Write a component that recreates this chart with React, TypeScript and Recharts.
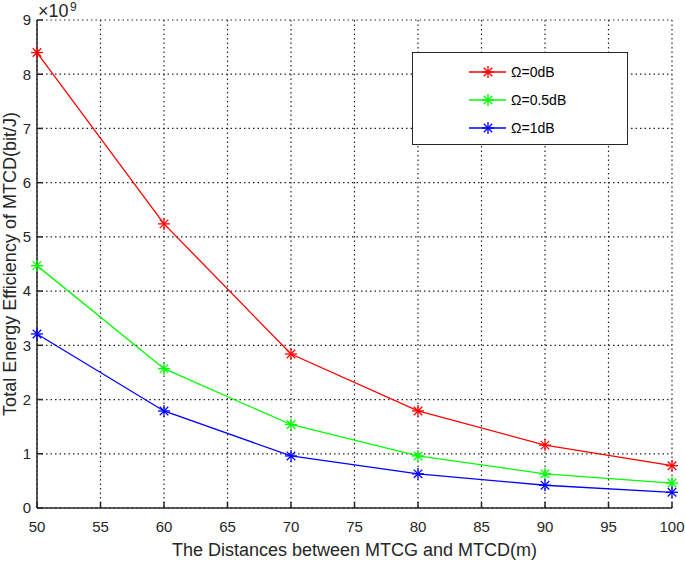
import React from 'react';
import { LineChart, Line, XAxis, YAxis, CartesianGrid } from 'recharts';

const distances = [50, 60, 70, 80, 90, 100];
const omega0 = [8.4, 5.24, 2.84, 1.79, 1.16, 0.78];
const omega05 = [4.47, 2.57, 1.54, 0.96, 0.63, 0.46];
const omega1 = [3.21, 1.79, 0.96, 0.63, 0.42, 0.29];
const seriesNames = ['Ω=0dB', 'Ω=0.5dB', 'Ω=1dB'];
const seriesColors = ['#ff0000', '#00ff00', '#0000ff'];
const xTicks = [50, 55, 60, 65, 70, 75, 80, 85, 90, 95, 100];
const yTicks = [0, 1, 2, 3, 4, 5, 6, 7, 8, 9];

const data = distances.map((d, i) => ({ d, s0: omega0[i], s1: omega05[i], s2: omega1[i] }));
const keys = ['s0', 's1', 's2'];

const FONT = '"Liberation Sans", Arial, Helvetica, sans-serif';

const Star = (color: string) => (props: any) => {
  const { cx, cy } = props;
  if (cx == null || cy == null) return null;
  const r = 6;
  const d = r * 0.7071;
  return (
    <g stroke={color} strokeWidth={1.3} key={`${cx}-${cy}`}>
      <line x1={cx - r} y1={cy} x2={cx + r} y2={cy} />
      <line x1={cx} y1={cy - r} x2={cx} y2={cy + r} />
      <line x1={cx - d} y1={cy - d} x2={cx + d} y2={cy + d} />
      <line x1={cx - d} y1={cy + d} x2={cx + d} y2={cy - d} />
    </g>
  );
};

const LegendBox = () => (
  <div
    style={{
      position: 'absolute',
      left: 412,
      top: 52,
      width: 216,
      height: 93,
      border: '1.5px solid #262626',
      background: '#fff',
      boxSizing: 'border-box',
      fontFamily: FONT,
      fontSize: 14,
    }}
  >
    {seriesNames.map((n, i) => (
      <div key={n} style={{ position: 'absolute', left: 56, top: 10 + i * 28, height: 18, display: 'flex', alignItems: 'center' }}>
        <svg width={40} height={18}>
          <line x1={0} y1={9} x2={37} y2={9} stroke={seriesColors[i]} strokeWidth={1.3} />
          {Star(seriesColors[i])({ cx: 19, cy: 9 })}
        </svg>
        <span style={{ marginLeft: 2, color: '#000' }}>{n}</span>
      </div>
    ))}
  </div>
);

export default function App() {
  return (
    <div style={{ position: 'absolute', left: 0, top: 0, width: 685, height: 561, background: '#fff' }}>
      <LineChart width={685} height={561} data={data} margin={{ top: 20, right: 13, bottom: 0, left: 0 }}>
        <CartesianGrid stroke="#262626" strokeDasharray="1.5 3" strokeWidth={1.2} />
        <XAxis
          dataKey="d"
          type="number"
          domain={[50, 100]}
          ticks={xTicks}
          interval={0}
          height={53}
          tickSize={-6}
          tickMargin={19}
          stroke="#262626"
          strokeWidth={1.5}
          tick={{ fill: '#262626', fontSize: 15, fontFamily: FONT }}
          label={{ value: 'The Distances between MTCG and MTCD(m)', position: 'insideBottom', offset: 5, fill: '#262626', fontSize: 18, fontFamily: FONT }}
        />
        <XAxis
          xAxisId="top"
          dataKey="d"
          type="number"
          domain={[50, 100]}
          ticks={xTicks}
          orientation="top"
          height={0}
          tickSize={-6}
          tickFormatter={() => ''}
          stroke="#262626"
          strokeWidth={1.5}
        />
        <YAxis
          type="number"
          domain={[0, 9]}
          ticks={yTicks}
          interval={0}
          width={37}
          tickSize={-6}
          tickMargin={12}
          stroke="#262626"
          strokeWidth={1.5}
          tick={{ fill: '#262626', fontSize: 15, fontFamily: FONT }}
          label={{ value: 'Total Energy Efficiency of MTCD(bit/J)', angle: -90, position: 'insideLeft', offset: 10, fill: '#262626', fontSize: 18, fontFamily: FONT, style: { textAnchor: 'middle' } }}
        />
        <YAxis
          yAxisId="right"
          type="number"
          domain={[0, 9]}
          ticks={yTicks}
          orientation="right"
          width={0}
          tickSize={-6}
          tickFormatter={() => ''}
          stroke="#262626"
          strokeWidth={1.5}
        />
        {keys.map((k, i) => (
          <Line
            key={k}
            dataKey={k}
            name={seriesNames[i]}
            stroke={seriesColors[i]}
            strokeWidth={1.3}
            dot={Star(seriesColors[i])}
            activeDot={false}
            isAnimationActive={false}
          />
        ))}
      </LineChart>
      <svg style={{ position: 'absolute', left: 0, top: 0 }} width={120} height={20}>
        <text x={38} y={17} fontFamily={FONT} fontSize={18} fill="#262626">×10</text>
        <text x={70} y={11} fontFamily={FONT} fontSize={12} fill="#262626">9</text>
      </svg>
      <LegendBox />
    </div>
  );
}
